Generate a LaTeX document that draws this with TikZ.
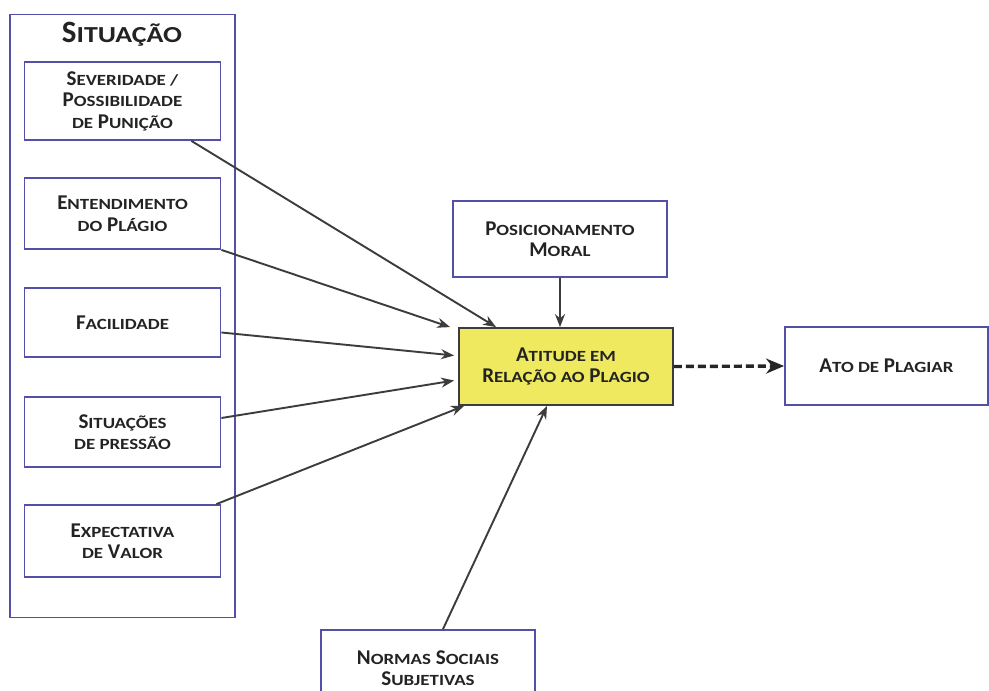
\documentclass[tikz,border=0pt]{standalone}
\usepackage{fontspec}
\setmainfont{Carlito}
\usetikzlibrary{arrows.meta,calc}
\definecolor{boxline}{HTML}{5450A8}
\definecolor{arrline}{HTML}{3C3C3C}
\definecolor{attfill}{HTML}{EEE95E}
\definecolor{txt}{HTML}{232323}
\newcommand\sm[1]{\scalebox{0.9}[0.74]{#1}}
\tikzset{
  factorbox/.style={draw=boxline, line width=1.8pt, fill=white, align=center,
    minimum width=196pt, text=txt, inner sep=2pt,
    font=\fontsize{21}{21.5}\selectfont\bfseries},
  sidebox/.style={factorbox, minimum width=214pt, minimum height=76pt},
  attbox/.style={factorbox, draw=arrline, fill=attfill, minimum width=214pt,
    minimum height=77pt},
  arr/.style={-{Stealth[length=13pt,width=10pt]}, line width=1.9pt, draw=arrline},
  dasharr/.style={-{Stealth[length=18pt,width=15pt]}, line width=3.4pt, draw=black!85,
    dash pattern=on 8pt off 4pt}
}
\begin{document}
\begin{tikzpicture}[x=1pt,y=-1pt]
  \useasboundingbox[fill=white] (0,0) rectangle (989,691);
  \node[draw=boxline, line width=1.8pt, minimum width=225pt, minimum height=603pt]
    (sit) at (122.5,316) {};
  \node[text=txt, font=\fontsize{31}{32}\selectfont\bfseries] (sittitle) at (122,34)
    {S\sm{ITUAÇÃO}};
  \foreach \y/\h/\n/\lab in {
    101/78/sev/{S\sm{EVERIDADE /}\\P\sm{OSSIBILIDADE}\\\sm{DE} P\sm{UNIÇÃO}},
    213.5/71/ent/{E\sm{NTENDIMENTO}\\\sm{DO} P\sm{LÁGIO}},
    322.5/69/fac/{F\sm{ACILIDADE}},
    432/70/pre/{S\sm{ITUAÇÕES}\\\sm{DE PRESSÃO}},
    541/72/exp/{E\sm{XPECTATIVA}\\\sm{DE} V\sm{ALOR}}} {
    \node[factorbox, minimum height=\h pt] (\n) at (122.5,\y) {\lab};
  }
  \node[sidebox] (pos) at (560,239) {P\sm{OSICIONAMENTO}\\M\sm{ORAL}};
  \node[attbox] (att) at (566,366.5) {A\sm{TITUDE EM}\\R\sm{ELAÇÃO AO} P\sm{LAGIO}};
  \node[sidebox, minimum width=203pt, minimum height=78pt] (ato) at (886.5,366)
    {A\sm{TO DE} P\sm{LAGIAR}};
  \node[sidebox] (nor) at (428,668) {N\sm{ORMAS} S\sm{OCIAIS}\\S\sm{UBJETIVAS}};
  \draw[arr] ([xshift=-30pt]sev.south east) -- ([xshift=38pt]att.north west);
  \draw[arr] (ent.south east) -- ([xshift=-8pt]att.north west);
  \draw[arr] ([yshift=-10pt]fac.east) -- ([xshift=-4pt,yshift=11pt]att.west);
  \draw[arr] ([yshift=14pt]pre.east) -- ([xshift=-4pt,yshift=-14pt]att.west);
  \draw[arr] ([xshift=-5pt]exp.north east) -- ([xshift=6pt]att.south west);
  \draw[arr] (pos.south) -- (pos.south |- att.north);
  \draw[arr] ([xshift=15pt]nor.north) -- ([xshift=-19pt]att.south);
  \draw[dasharr] (att.east) -- (ato.west);
\end{tikzpicture}
\end{document}
